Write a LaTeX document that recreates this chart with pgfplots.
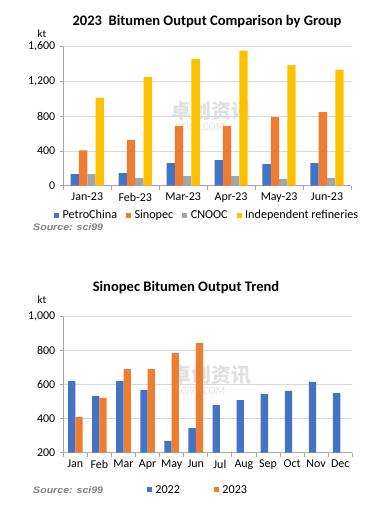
\documentclass[border=0pt]{standalone}
\usepackage{pgfplots}
\pgfplotsset{compat=1.18}
\usepackage{fontspec}
\setmainfont{Carlito}
\newfontfamily\arialfont{Liberation Sans}
\newfontfamily\cjk{Noto Sans CJK SC}
\definecolor{cBlue}{HTML}{4472C4}
\definecolor{cOrange}{HTML}{ED7D31}
\definecolor{cGray}{HTML}{A5A5A5}
\definecolor{cGold}{HTML}{FFC000}
\definecolor{gridc}{HTML}{D9D9D9}
\definecolor{axc}{HTML}{A6A6A6}
\definecolor{srcc}{HTML}{7F7F7F}
\pgfplotsset{
  excel/.style={
    scale only axis, anchor=south west,
    axis x line*=bottom, axis y line*=left,
    y axis line style={draw=axc, line width=0.8pt},
    x axis line style={draw=axc, line width=0.8pt},
    ymajorgrids, grid style={draw=gridc, line width=0.8pt},
    ytick style={draw=axc, line width=0.8pt},
    major x tick style={draw=none},
    minor x tick style={draw=axc, line width=0.8pt},
    major tick length=3.5bp,
    minor tick length=4bp,
    tick align=outside,
    ticklabel style={font=\fontsize{12}{14}\selectfont},
    yticklabel style={xshift=-1bp},
    /pgf/number format/assume math mode=true,
    /pgf/number format/1000 sep={,},
    scaled y ticks=false,
    legend style={draw=none, fill=none, font=\fontsize{12.2}{13}\selectfont, inner sep=0pt,
      /tikz/every odd column/.append style={column sep=1.5bp}},
    legend cell align=left,
  },
  sq/.style={legend image code/.code={\fill[##1] (0bp,-2.5bp) rectangle (5bp,2.5bp);}},
}
\begin{document}
\begin{tikzpicture}[x=1bp,y=1bp]
\useasboundingbox (0,0) rectangle (377,516);
% watermarks
\node[text=black!12, font=\cjk\bfseries\fontsize{20}{20}\selectfont, anchor=west] at (168,405) {卓创资讯};
\node[text=black!12, font=\fontsize{11}{11}\selectfont, anchor=west] at (172,389) {SCI99.COM};
\node[text=black!12, font=\cjk\bfseries\fontsize{20}{20}\selectfont, anchor=west] at (168,141) {卓创资讯};
\node[text=black!12, font=\fontsize{11}{11}\selectfont, anchor=west] at (172,125) {SCI99.COM};
% ---------- top chart ----------
\node[font=\bfseries\fontsize{14.6}{16}\selectfont] at (207,494) {2023\ \ Bitumen Output Comparison by Group};
\node[font=\fontsize{11}{13}\selectfont] at (42,482) {kt};
\begin{axis}[excel,
  at={(63.3bp,330.3bp)}, width=287.7bp, height=139bp,
  ybar=0pt, bar width=8.3bp,
  ymin=0, ymax=1600, ytick={0,400,800,1200,1600},
  xmin=-0.5, xmax=5.5, xtick={0,1,2,3,4,5},
  xticklabels={Jan-23,Feb-23,Mar-23,Apr-23,May-23,Jun-23},
  minor xtick={-0.5,0.5,1.5,2.5,3.5,4.5,5.5},
  legend columns=4,
  legend style={at={(0.5,-0.212)}, anchor=center,
    /tikz/every even column/.append style={column sep=7bp}},
]
\addplot[sq, fill=cBlue, draw=none] coordinates {(0,132) (1,146) (2,261) (3,295) (4,249) (5,261)};
\addplot[sq, fill=cOrange, draw=none] coordinates {(0,406) (1,526) (2,687) (3,687) (4,790) (5,848)};
\addplot[sq, fill=cGray, draw=none] coordinates {(0,132) (1,88) (2,111) (3,111) (4,77) (5,88)};
\addplot[sq, fill=cGold, draw=none] coordinates {(0,1013) (1,1251) (2,1458) (3,1554) (4,1389) (5,1332)};
\legend{PetroChina,Sinopec,CNOOC,Independent refineries}
\end{axis}
\node[anchor=west, inner sep=0pt, text=srcc, xscale=1.12, font=\arialfont\bfseries\itshape\fontsize{9.5}{11}\selectfont] at (33,289.3) {Source: sci99};
% ---------- bottom chart ----------
\node[font=\bfseries\fontsize{14.6}{16}\selectfont] at (186,228) {Sinopec Bitumen Output Trend};
\node[font=\fontsize{11}{13}\selectfont] at (42,216) {kt};
\begin{axis}[excel,
  at={(63.3bp,63.3bp)}, width=289bp, height=136bp,
  ybar=0pt, bar width=7.3bp,
  ymin=200, ymax=1000, ytick={200,400,600,800,1000},
  xmin=-0.5, xmax=11.5, xtick={0,...,11},
  xticklabels={Jan,Feb,Mar,Apr,May,Jun,Jul,Aug,Sep,Oct,Nov,Dec},
  minor xtick={-0.5,0.5,...,11.5},
  legend columns=2,
  legend style={at={(0.466,-0.274)}, anchor=center,
    /tikz/every even column/.append style={column sep=32bp}},
]
\addplot[sq, fill=cBlue, draw=none] coordinates {(0,621) (1,533) (2,621) (3,569) (4,269) (5,345) (6,480) (7,510) (8,545) (9,563) (10,616) (11,551)};
\addplot[sq, fill=cOrange, draw=none] coordinates {(0,410) (1,522) (2,692) (3,692) (4,786) (5,845)};
\legend{2022,2023}
\end{axis}
\node[anchor=west, inner sep=0pt, text=srcc, xscale=1.12, font=\arialfont\bfseries\itshape\fontsize{9.5}{11}\selectfont] at (33,26) {Source: sci99};
\end{tikzpicture}
\end{document}
